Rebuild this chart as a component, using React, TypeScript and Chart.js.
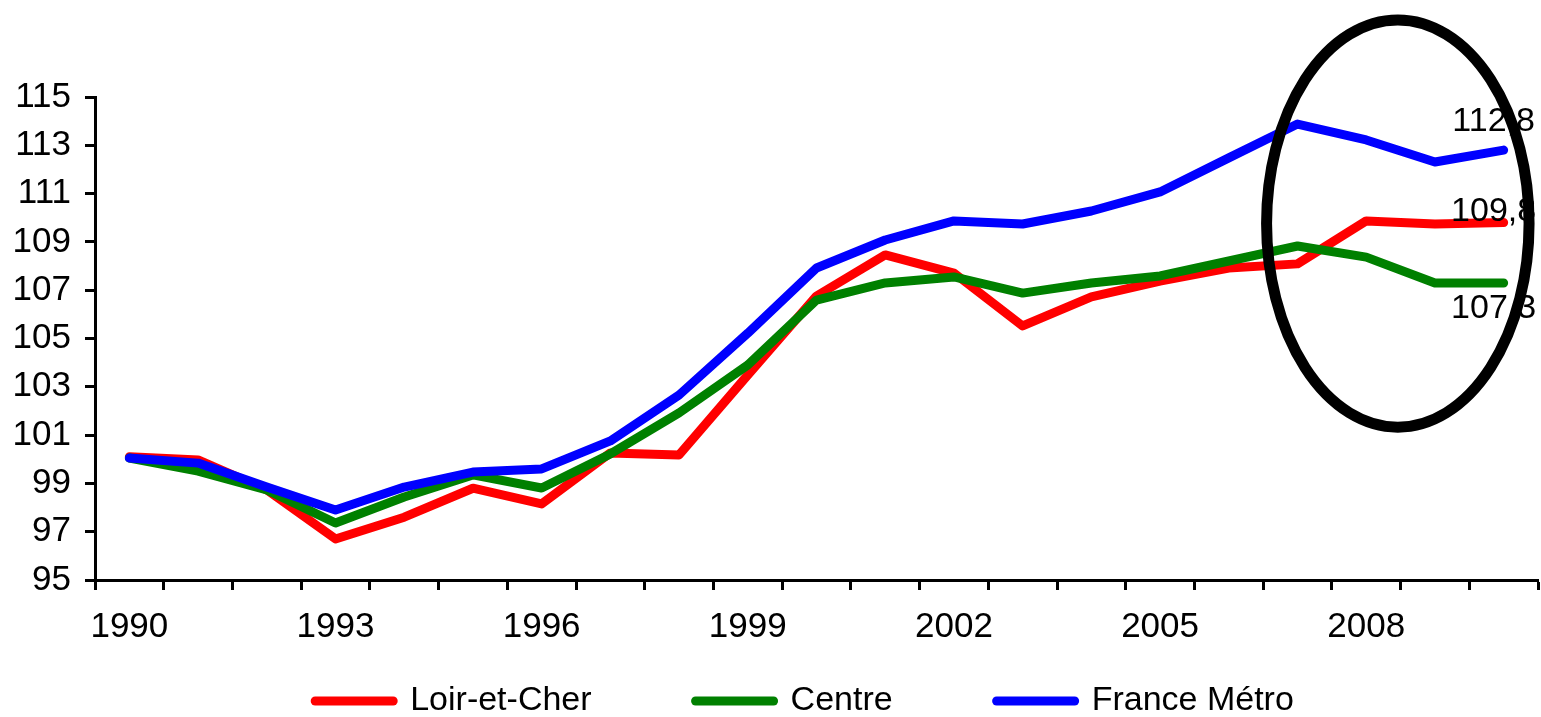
import React, { useEffect, useRef } from 'react';
import { Chart, registerables } from 'chart.js';

Chart.register(...registerables);

// ---------- data ----------
const years = [
  '1990', '1991', '1992', '1993', '1994', '1995', '1996', '1997', '1998', '1999', '2000',
  '2001', '2002', '2003', '2004', '2005', '2006', '2007', '2008', '2009', '2010',
];
const loirEtCher = [
  100.1, 99.97, 98.73, 96.7, 97.6, 98.8, 98.15, 100.26, 100.18, 103.49, 106.76,
  108.46, 107.71, 105.52, 106.72, 107.38, 107.92, 108.09, 109.87, 109.74, 109.8,
];
const centre = [
  100.05, 99.51, 98.73, 97.36, 98.44, 99.35, 98.81, 100.22, 101.92, 103.9, 106.59,
  107.3, 107.55, 106.88, 107.3, 107.59, 108.21, 108.83, 108.37, 107.3, 107.3,
];
const franceMetro = [
  100.05, 99.84, 98.85, 97.9, 98.85, 99.47, 99.6, 100.76, 102.66, 105.22, 107.92,
  109.08, 109.87, 109.74, 110.28, 111.07, 112.48, 113.88, 113.22, 112.31, 112.8,
];
const seriesNames = ['Loir-et-Cher', 'Centre', 'France Métro'];
const yMin = 95;
const yMax = 115;
const yStep = 2;
const xLabelEvery = 3;
// highlighted zone (data units: category index / index value)
const zoneCenterIndex = 18.46;
const zoneCenterValue = 109.76;
const zoneRadiusCategories = 1.91;
const zoneRadiusUnits = 8.43;

// ---------- styles ----------
const FONT = "'Liberation Sans', Arial, Helvetica, sans-serif";
const TICK_FONT_SIZE = 35;
const LABEL_FONT_SIZE = 34;
const seriesColors = ['#FF0000', '#008000', '#0000FF'];
const seriesOrder = [2, 1, 0];
const endLabelDy = [-11, 26, -29];
const endLabelDx = -10;
const LEGEND_PADDING = 104;
const LEGEND_TEXT_Y = 701;
const LEGEND_DX = -12;

const endLabelsPlugin = {
  id: 'endLabels',
  afterDatasetsDraw(chart: any) {
    const ctx = chart.ctx;
    ctx.save();
    ctx.font = `${LABEL_FONT_SIZE}px ${FONT}`;
    ctx.fillStyle = '#000';
    ctx.textAlign = 'center';
    ctx.textBaseline = 'middle';
    chart.data.datasets.forEach((ds: any, i: number) => {
      const meta = chart.getDatasetMeta(i);
      const last = meta.data.length - 1;
      const pt = meta.data[last];
      const v = ds.data[last] as number;
      ctx.fillText(v.toFixed(1).replace('.', ','), pt.x + endLabelDx, pt.y + endLabelDy[i]);
    });
    ctx.restore();
  },
};

const zonePlugin = {
  id: 'zoneEllipse',
  afterDraw(chart: any) {
    const { x, y } = chart.scales;
    const ctx = chart.ctx;
    const cx = x.getPixelForValue(zoneCenterIndex);
    const cy = y.getPixelForValue(zoneCenterValue);
    const rx = Math.abs(x.getPixelForValue(zoneCenterIndex + zoneRadiusCategories) - cx);
    const ry = Math.abs(y.getPixelForValue(zoneCenterValue + zoneRadiusUnits) - cy);
    ctx.save();
    ctx.beginPath();
    ctx.ellipse(cx, cy, rx, ry, 0, 0, Math.PI * 2);
    ctx.lineWidth = 11;
    ctx.strokeStyle = '#000';
    ctx.stroke();
    ctx.restore();
  },
};

// moves the built-in legend box so its row sits at the reference height
const legendPlacementPlugin = {
  id: 'legendPlacement',
  afterLayout(chart: any) {
    const lg = chart.legend;
    if (!lg) return;
    const top = LEGEND_TEXT_Y - LABEL_FONT_SIZE / 2 - LEGEND_PADDING;
    lg.top = top;
    lg.bottom = chart.height;
    lg.height = lg.bottom - lg.top;
    lg.left += LEGEND_DX;
    lg.right += LEGEND_DX;
  },
};

export default function App() {
  const ref = useRef<HTMLCanvasElement>(null);

  useEffect(() => {
    if (!ref.current) return;
    const seriesData = [loirEtCher, centre, franceMetro];
    const chart = new Chart(ref.current, {
      type: 'line',
      data: {
        labels: years,
        datasets: seriesData.map((d, i) => ({
          label: seriesNames[i],
          data: d,
          borderColor: seriesColors[i],
          backgroundColor: seriesColors[i],
          borderWidth: 9,
          borderCapStyle: 'round',
          borderJoinStyle: 'round',
          pointRadius: 0,
          pointHoverRadius: 0,
          tension: 0,
          fill: false,
          order: seriesOrder[i],
        })),
      },
      options: {
        responsive: false,
        maintainAspectRatio: false,
        animation: false,
        devicePixelRatio: 1,
        events: [],
        layout: { padding: { left: 0, right: 3, top: 97, bottom: 0 } },
        font: { family: FONT, size: TICK_FONT_SIZE },
        color: '#000',
        plugins: {
          title: { display: false },
          tooltip: { enabled: false },
          legend: {
            display: true,
            position: 'bottom',
            align: 'center',
            fullSize: false,
            maxHeight: 67,
            labels: {
              usePointStyle: true,
              pointStyle: 'line',
              pointStyleWidth: 78,
              padding: LEGEND_PADDING,
              color: '#000',
              font: { family: FONT, size: LABEL_FONT_SIZE },
              sort: (a: any, b: any) => a.datasetIndex - b.datasetIndex,
              generateLabels: (chart: any) =>
                (Chart as any).defaults.plugins.legend.labels
                  .generateLabels(chart)
                  .map((item: any) => ({ ...item, lineCap: 'round', lineWidth: 9 })),
            },
          },
        },
        scales: {
          x: {
            type: 'category',
            offset: true,
            afterFit(scale: any) {
              scale.height = 70;
            },
            grid: {
              offset: true,
              drawOnChartArea: false,
              drawTicks: true,
              tickLength: 10,
              tickWidth: 3,
              tickColor: '#000',
              color: '#000',
            },
            border: { display: true, color: '#000', width: 3 },
            ticks: {
              autoSkip: false,
              maxRotation: 0,
              minRotation: 0,
              padding: 16,
              color: '#000',
              font: { family: FONT, size: TICK_FONT_SIZE },
              callback: (_v: any, i: number) => (i % xLabelEvery === 0 ? years[i] : ''),
            },
          },
          y: {
            type: 'linear',
            min: yMin,
            max: yMax,
            afterFit(scale: any) {
              scale.width = 95;
            },
            grid: {
              drawOnChartArea: false,
              drawTicks: true,
              tickLength: 10,
              tickWidth: 3,
              tickColor: '#000',
              color: '#000',
            },
            border: { display: true, color: '#000', width: 3 },
            ticks: {
              stepSize: yStep,
              padding: 14,
              color: '#000',
              font: { family: FONT, size: TICK_FONT_SIZE },
            },
          },
        },
      } as any,
      plugins: [endLabelsPlugin, zonePlugin, legendPlacementPlugin],
    });
    return () => chart.destroy();
  }, []);

  return (
    <div style={{ position: 'fixed', left: 0, top: 0, width: 1541, height: 717, background: '#fff' }}>
      <canvas ref={ref} width={1541} height={717} style={{ display: 'block' }} />
    </div>
  );
}
